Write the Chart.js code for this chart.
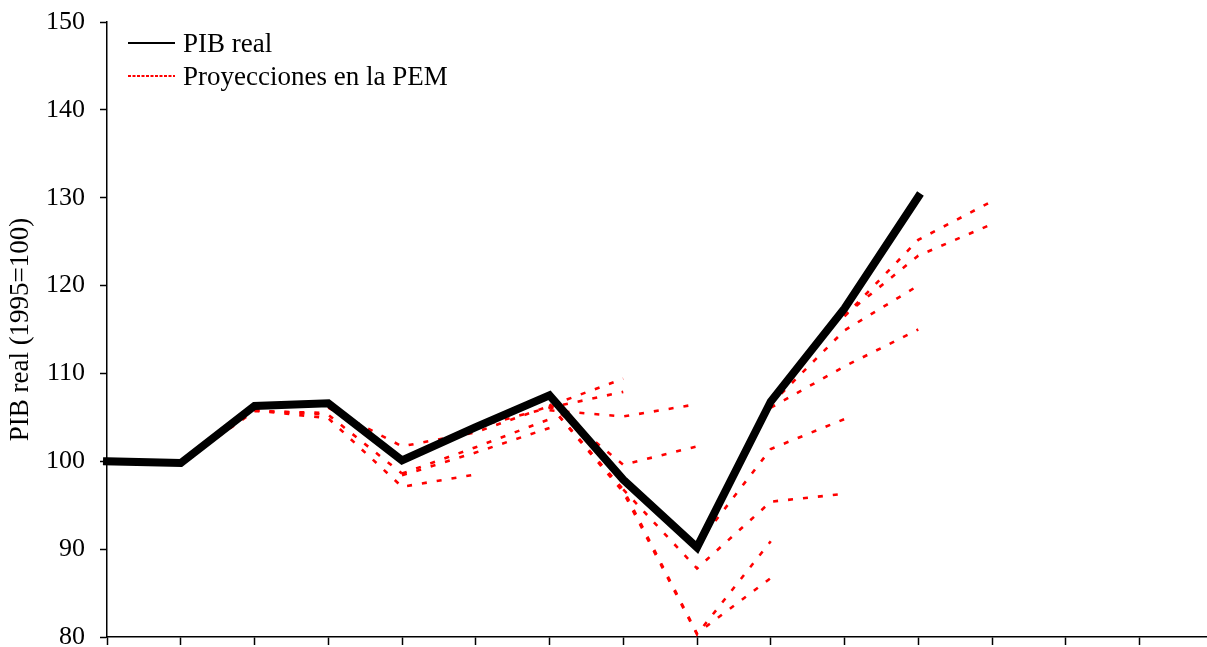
<!DOCTYPE html>
<html>
<head>
<meta charset="utf-8">
<script src="https://cdn.jsdelivr.net/npm/chart.js@4/dist/chart.umd.min.js"></script>
<style>
html,body{margin:0;padding:0;background:#fff;}
#wrap{width:1207px;height:647px;position:relative;}
</style>
</head>
<body>
<div id="wrap"><canvas id="c" width="1207" height="647"></canvas></div>
<script>
// ---- data ----
const seriesNames = ["PIB real", "Proyecciones en la PEM"];
const yTicks = [80, 90, 100, 110, 120, 130, 140, 150];
const xTickCount = 15; // tick marks on the horizontal axis (no labels)
const pibReal = [100.0, 99.8, 106.3, 106.6, 100.1, 103.9, 107.5, 97.9, 90.2, 106.8, 117.4, 130.1];

// projections: start index + values
const pem01 = {start: 1, values: [99.8, 105.7, 105.5]};
const pem02 = {start: 2, values: [105.8, 105.3, 98.6]};
const pem03 = {start: 2, values: [105.8, 104.9, 97.1, 98.5]};
const pem04 = {start: 3, values: [106.1, 101.7, 103.3, 106.3, 109.4]};
const pem05 = {start: 4, values: [98.6, 101.6, 104.8]};
const pem06 = {start: 4, values: [98.4, 101.0, 103.8]};
const pem07 = {start: 5, values: [103.9, 106.1, 107.9]};
const pem08 = {start: 6, values: [105.8, 105.1, 106.5]};
const pem09 = {start: 6, values: [106.5, 99.6, 101.7]};
const pem10 = {start: 6, values: [106.4, 96.8, 80.4, 86.7]};
const pem11 = {start: 6, values: [106.4, 96.5, 80.3, 90.9]};
const pem12 = {start: 7, values: [96.8, 87.8, 95.4, 96.3]};
const pem13 = {start: 8, values: [90.5, 101.4, 104.8]};
const pem14 = {start: 9, values: [106.1, 110.8, 115.0]};
const pem15 = {start: 9, values: [106.5, 114.9, 120.0]};
const pem16 = {start: 10, values: [116.5, 125.2, 129.6]};
const pem17 = {start: 10, values: [116.6, 123.4, 127.0]};
const projections = [pem01, pem02, pem03, pem04, pem05, pem06, pem07, pem08, pem09,
                     pem10, pem11, pem12, pem13, pem14, pem15, pem16, pem17];

// ---- styling ----
const FONT = "'Liberation Serif', 'Times New Roman', serif";
const RED = '#ff0000';

const datasets = [{
  label: seriesNames[0],
  data: pibReal.map((v, i) => ({x: i, y: v})),
  borderColor: '#000',
  borderWidth: 8,
  pointRadius: 0,
  borderCapStyle: 'square',
  borderJoinStyle: 'miter',
  tension: 0,
  clip: false,
  order: 0
}];
projections.forEach((p) => {
  datasets.push({
    label: seriesNames[1],
    data: p.values.map((v, j) => ({x: p.start + j, y: v})),
    borderColor: RED,
    borderWidth: 2.6,
    borderDash: [5, 10],
    pointRadius: 0,
    tension: 0,
    clip: false,
    order: 1
  });
});

const legendPlugin = {
  id: 'customLegend',
  afterDraw(chart) {
    const ctx = chart.ctx;
    ctx.save();
    ctx.font = '27px ' + FONT;
    ctx.fillStyle = '#000';
    ctx.textBaseline = 'middle';
    ctx.strokeStyle = '#000';
    ctx.lineWidth = 2;
    ctx.setLineDash([]);
    ctx.beginPath(); ctx.moveTo(128, 43); ctx.lineTo(175, 43); ctx.stroke();
    ctx.fillText(seriesNames[0], 183, 45);
    ctx.strokeStyle = RED;
    ctx.lineWidth = 2.2;
    ctx.setLineDash([3, 1.5]);
    ctx.beginPath(); ctx.moveTo(128, 76); ctx.lineTo(175, 76); ctx.stroke();
    ctx.setLineDash([]);
    ctx.fillText(seriesNames[1], 183, 78);
    ctx.restore();
  }
};

new Chart(document.getElementById('c'), {
  type: 'line',
  data: {datasets},
  options: {
    responsive: false,
    devicePixelRatio: 1,
    animation: false,
    layout: {padding: {top: 22, right: 0, bottom: 0, left: 0}},
    plugins: {legend: {display: false}, tooltip: {enabled: false}},
    scales: {
      x: {
        type: 'linear',
        min: 0,
        max: (1207 - 107) / 73.75,
        afterFit: s => { s.height = 10; s.paddingLeft = 0; s.paddingRight = 0; s.paddingTop = 0; s.paddingBottom = 0; },
        afterBuildTicks: s => {
          s.ticks = Array.from({length: xTickCount}, (_, i) => ({value: i}));
        },
        ticks: {callback: () => '', includeBounds: false},
        grid: {drawOnChartArea: false, color: '#000', tickLength: 8, tickWidth: 1.5},
        border: {color: '#000', width: 1.5}
      },
      y: {
        type: 'linear',
        min: yTicks[0],
        max: yTicks[yTicks.length - 1],
        afterFit: s => { s.width = 107; s.paddingTop = 0; s.paddingBottom = 0; s.paddingLeft = 0; s.paddingRight = 0; },
        afterBuildTicks: s => { s.ticks = yTicks.map(v => ({value: v})); },
        ticks: {
          font: {family: FONT, size: 26},
          color: '#000',
          padding: 15
        },
        grid: {drawOnChartArea: false, color: '#000', tickLength: 7, tickWidth: 1.5},
        border: {color: '#000', width: 1.5},
        title: {
          display: true,
          text: 'PIB real (1995=100)',
          font: {family: FONT, size: 27},
          color: '#000',
          padding: {top: 5, bottom: 0}
        }
      }
    }
  },
  plugins: [legendPlugin]
});
</script>
</body>
</html>
